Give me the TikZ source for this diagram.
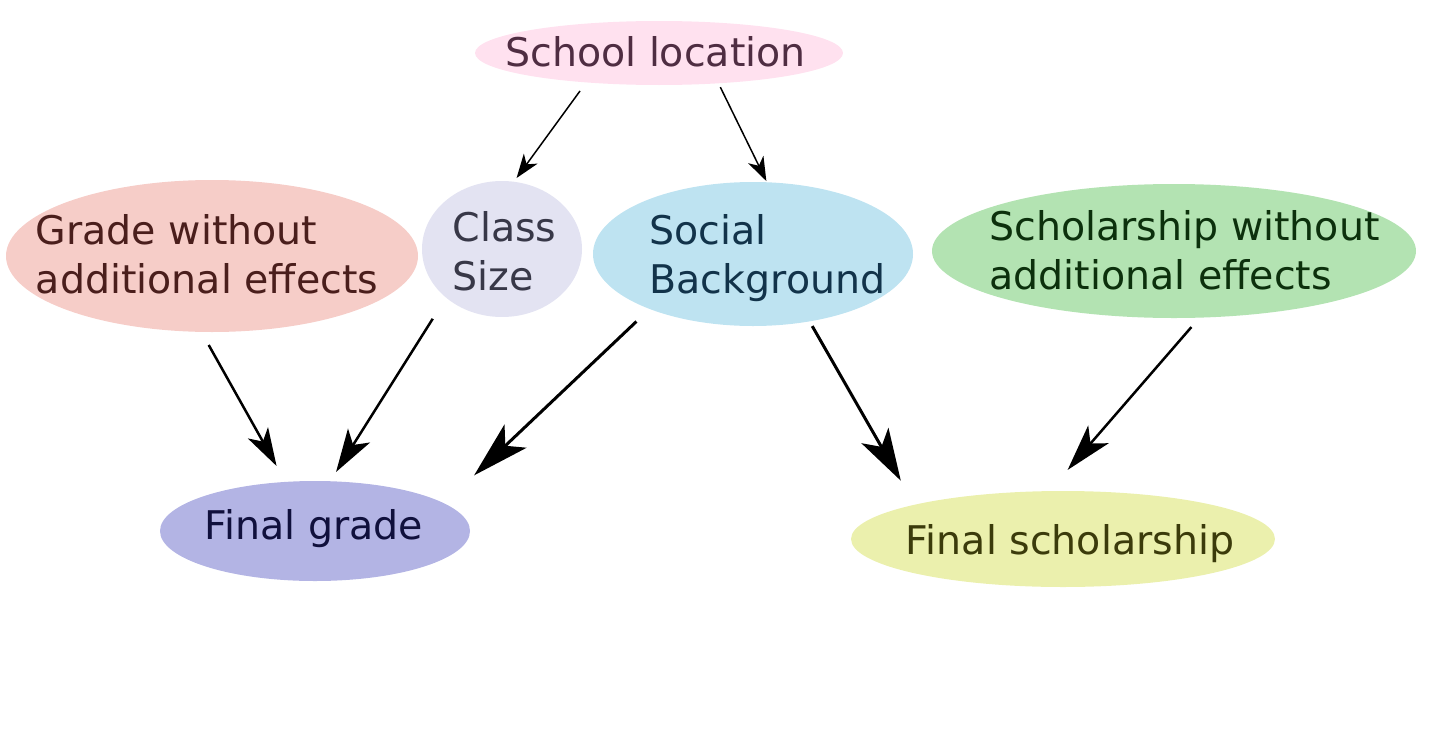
\documentclass[tikz,border=0pt]{standalone}
\usepackage{fontspec}
\setmainfont{DejaVu Sans}
\usetikzlibrary{shapes.geometric,arrows.meta}
\definecolor{slF}{HTML}{FFE1EF}\definecolor{slT}{HTML}{4F2D42}
\definecolor{grF}{HTML}{F6CDC8}\definecolor{grT}{HTML}{4A1E1C}
\definecolor{csF}{HTML}{E3E3F2}\definecolor{csT}{HTML}{383848}
\definecolor{sbF}{HTML}{BEE3F1}\definecolor{sbT}{HTML}{12334A}
\definecolor{scF}{HTML}{B3E3B2}\definecolor{scT}{HTML}{0C300C}
\definecolor{fgF}{HTML}{B3B4E4}\definecolor{fgT}{HTML}{10103C}
\definecolor{fsF}{HTML}{EBF0AD}\definecolor{fsT}{HTML}{3B3B0B}
\tikzset{
  ell/.style={ellipse, draw=none, inner sep=0pt, outer sep=0pt},
  lbl/.style={inner sep=0pt, align=left, font=\fontsize{39.5}{49.5}\selectfont},
  thinarr/.style={line width=1.5pt, -{Stealth[length=24pt,width=17pt,inset=7pt]}},
  medarr/.style={line width=2.5pt},
  bigarr/.style={line width=3pt}
}
\begin{document}
\begin{tikzpicture}[x=1pt,y=-1pt]
\useasboundingbox (0,0) rectangle (1439,744);
\node[ell, fill=slF, minimum width=368pt, minimum height=64pt,
  label={[lbl, text=slT, xshift=-3.5pt, yshift=1.3pt]center:School location}] (sl) at (659,53) {};
\node[ell, fill=grF, minimum width=412pt, minimum height=152pt,
  label={[lbl, text=grT, xshift=-5pt, yshift=1.5pt]center:{Grade without\\additional effects}}] (gr) at (212,256) {};
\node[ell, fill=csF, minimum width=160pt, minimum height=136pt,
  label={[lbl, text=csT, xshift=2.5pt, yshift=-2.5pt]center:{Class\\Size}}] (cs) at (502,249) {};
\node[ell, fill=sbF, minimum width=320pt, minimum height=144pt,
  label={[lbl, text=sbT, xshift=14.5pt, yshift=-4pt]center:{Social\\Background}}] (sb) at (753,254) {};
\node[ell, fill=scF, minimum width=484pt, minimum height=134pt,
  label={[lbl, text=scT, xshift=10.5pt, yshift=0.5pt]center:{Scholarship without\\additional effects}}] (sc) at (1174,251) {};
\node[ell, fill=fgF, minimum width=310pt, minimum height=100pt,
  label={[lbl, text=fgT, xshift=-1pt, yshift=2.3pt]center:Final grade}] (fg) at (315,531) {};
\node[ell, fill=fsF, minimum width=424pt, minimum height=96pt,
  label={[lbl, text=fsT, xshift=7pt, yshift=-4.6pt]center:Final scholarship}] (fs) at (1063,539) {};

\draw[thinarr, shorten <=10.6pt, shorten >=4.6pt] (sl.202.4) -- (cs.80.5);
\draw[thinarr, shorten <=4.25pt, shorten >=1.35pt] (sl.333.8) -- (sb.79.3);
\draw[medarr, -{Stealth[length=38pt,width=23pt,inset=10pt]}, shorten <=15pt, shorten >=18.25pt] (gr.262.3) -- (fg.121.6);
\draw[medarr, -{Stealth[length=43pt,width=26pt,inset=11pt]}, shorten <=25pt, shorten >=10.95pt] (cs.221.3) -- (fg.73.1);
\draw[bigarr, -{Stealth[length=57pt,width=32pt,inset=14pt]}, shorten <=18.2pt, shorten >=40.9pt] (sb.208.7) -- (fg.12.4);
\draw[bigarr, -{Stealth[length=52pt,width=31pt,inset=13pt]}, shorten <=5.45pt, shorten >=27.7pt] (sb.310.5) -- (fs.167.35);
\draw[medarr, -{Stealth[length=47pt,width=27pt,inset=12pt]}, shorten <=12.5pt, shorten >=28pt] (sc.291.5) -- (fs.106.7);
\end{tikzpicture}
\end{document}
